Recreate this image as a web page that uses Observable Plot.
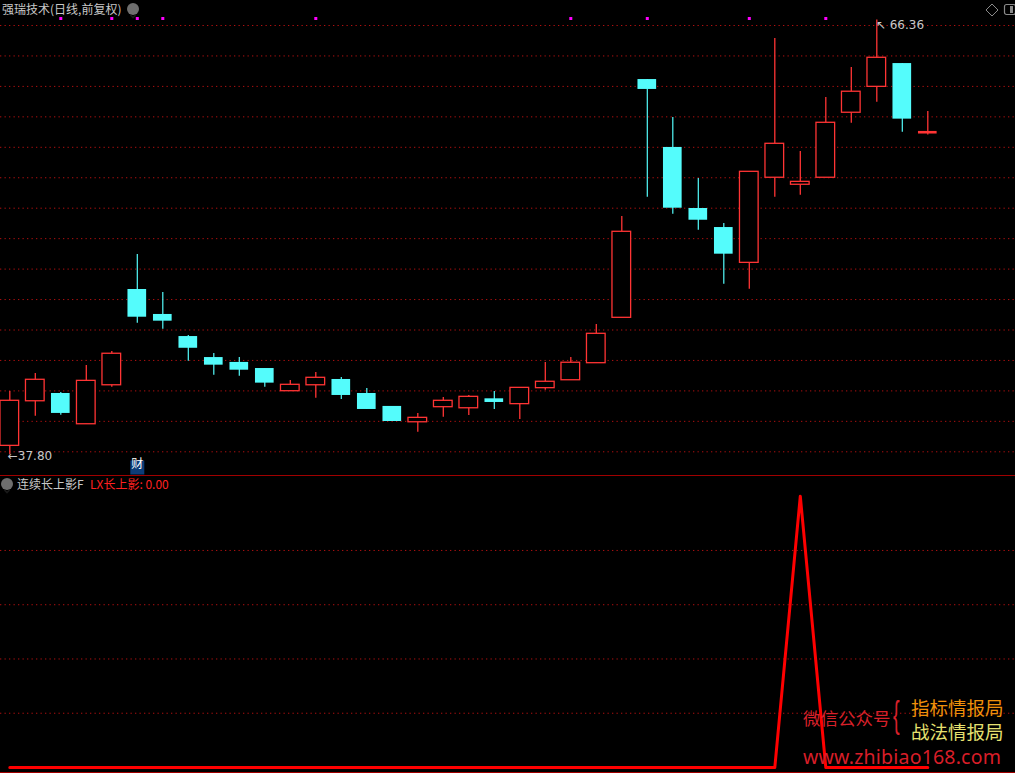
<!DOCTYPE html>
<html><head><meta charset="utf-8">
<script src="https://cdn.jsdelivr.net/npm/d3@7"></script>
<script src="https://cdn.jsdelivr.net/npm/@observablehq/plot@0.6"></script>
<style>
html,body{margin:0;padding:0;background:#000;}
#wrap{position:relative;width:1015px;height:773px;background:#000;overflow:hidden;font-family:"Noto Sans CJK SC","Noto Sans",sans-serif;}
#topPanel{position:absolute;left:0;top:0;}
#bottomPanel{position:absolute;left:0;top:476px;}
.lbl{position:absolute;white-space:nowrap;line-height:1;}
.hline{position:absolute;left:0;width:1015px;height:1px;background:#a00000;}
.ico{position:absolute;width:12px;height:12px;border-radius:50%;background:#6e6e6e;}
</style></head><body>
<div id="wrap">
  <div id="topPanel"></div>
  <div class="hline" style="top:475px"></div>
  <div id="bottomPanel"></div>
  <div class="hline" style="top:772px"></div>

  <div class="lbl" style="left:2px;top:3px;font-size:12px;color:#c8c8c8;">强瑞技术(日线,前复权)</div>
  <div class="ico" style="left:127px;top:3px;"><svg width="12" height="12"><path d="M3.5 5 L6 7.5 L8.5 5" stroke="#1a1a1a" stroke-width="1.6" fill="none"/></svg></div>
  <svg class="lbl" style="left:985px;top:3px;" width="14" height="14"><path d="M7 1 L13 7 L7 13 L1 7 Z" fill="none" stroke="#8a8a8a" stroke-width="1"/></svg>
  <svg class="lbl" style="left:1003px;top:3px;" width="14" height="14"><rect x="1.5" y="1.5" width="11" height="10" rx="2" fill="none" stroke="#8a8a8a" stroke-width="1.2"/><rect x="7" y="3" width="3" height="7" fill="#8a8a8a"/></svg>

  <div class="ico" style="left:1px;top:478px;"><svg width="12" height="12"><path d="M3.5 5 L6 7.5 L8.5 5" stroke="#1a1a1a" stroke-width="1.6" fill="none"/></svg></div>
  <div class="lbl" style="left:17px;top:478px;font-size:12px;color:#c8c8c8;">连续长上影F</div>
  <div class="lbl" style="left:90px;top:478px;font-size:12px;color:#ff2020;">LX长上影: 0.00</div>

  <div class="lbl" style="left:803px;top:709px;font-size:17.5px;color:#d8202a;">微信公众号</div>
  <div class="lbl" style="left:893px;top:697px;font-size:36px;color:#d8202a;font-family:'Liberation Sans';transform:scaleX(0.55);transform-origin:left top;">{</div>
  <div class="lbl" style="left:911px;top:698px;font-size:18.5px;color:#f0900a;">指标情报局</div>
  <div class="lbl" style="left:911px;top:722px;font-size:18.5px;color:#e6e070;">战法情报局</div>
  <div class="lbl" style="left:803px;top:748px;font-size:19.5px;line-height:18px;color:#d81e28;font-family:'Noto Sans',sans-serif;letter-spacing:0.2px;">www.zhibiao168.com</div>
</div>
<script>
// Daily OHLC of 强瑞技术 (index 0..36)
const open  = [38.39, 41.32, 41.83, 39.81, 42.37, 48.66, 47.02, 45.57, 44.19, 43.87, 43.47, 41.98, 42.37, 42.75, 41.83, 40.98, 39.94, 40.93, 40.86, 41.48, 41.13, 42.18, 42.70, 43.82, 46.80, 62.45, 57.99, 53.98, 52.73, 50.41, 56.00, 55.54, 56.00, 60.27, 61.97, 63.50, 58.99];
const high  = [41.96, 43.14, 41.90, 43.67, 44.59, 50.96, 48.46, 45.64, 44.46, 44.19, 43.47, 42.68, 43.21, 42.88, 42.16, 40.98, 40.52, 41.57, 41.70, 41.96, 42.20, 43.87, 44.19, 46.36, 53.45, 62.45, 59.96, 55.95, 52.99, 56.39, 65.15, 57.72, 61.27, 63.24, 66.36, 63.50, 60.35];
const low   = [37.80, 40.34, 40.40, 39.81, 42.24, 46.45, 46.05, 43.95, 43.03, 42.97, 42.24, 41.98, 41.52, 41.44, 40.78, 39.99, 39.29, 40.27, 40.38, 40.78, 40.12, 42.05, 42.70, 43.82, 46.80, 54.72, 53.61, 52.55, 49.01, 48.68, 54.72, 54.85, 56.00, 59.58, 60.96, 58.99, 58.80];
const close = [41.35, 42.73, 40.52, 42.66, 44.44, 46.84, 46.58, 44.80, 43.69, 43.36, 42.51, 42.40, 42.86, 41.70, 40.78, 39.99, 40.23, 41.35, 41.61, 41.24, 42.20, 42.60, 43.85, 45.75, 52.45, 61.80, 54.00, 53.21, 50.98, 56.39, 58.23, 55.73, 59.61, 61.65, 63.88, 59.85, 58.99];
// indicator LX长上影
const lx = [0,0,0,0,0,0,0,0,0,0,0,0,0,0,0,0,0,0,0,0,0,0,0,0,0,0,0,0,0,0,0,1,0,0,0,0,0];
// magenta signal markers (candle indices) and 财 marker
const signalIdx = [2, 4, 5, 6, 12, 22, 25, 29, 32];
const caiIdx = [5];
// grid values
const priceGrid = [38,40,42,44,46,48,50,52,54,56,58,60,62,64,66];
const lxGrid = [0.2, 0.4, 0.6, 0.8];
const lowLabel = {i: 0, v: 37.80, t: "←37.80"};
const highLabel = {i: 34, v: 66.36, t: "↖ 66.36"};

const RED = "#ff3434", CYAN = "#54fcfc";
const candles = open.map((o, i) => ({i, open: o, high: high[i], low: low[i], close: close[i], up: close[i] >= o}));
const hw = 0.366;

const xScale = {type: "linear", domain: [0, 36], range: [9.3, 927.3]};

const topChart = Plot.plot({
  width: 1015, height: 475,
  marginTop: 0, marginRight: 0, marginBottom: 0, marginLeft: 0,
  x: {...xScale, axis: null},
  y: {domain: [38, 66], range: [451.3, 25], axis: null},
  style: {background: "transparent", overflow: "visible"},
  marks: [
    Plot.ruleY(priceGrid, {y: d => d, stroke: "#b01010", strokeWidth: 1, strokeDasharray: "1.3,3.2"}),
    Plot.ruleX(candles.filter(d => d.up), {x: "i", y1: "low", y2: "high", stroke: RED, strokeWidth: 1.3}),
    Plot.ruleX(candles.filter(d => !d.up), {x: "i", y1: "low", y2: "high", stroke: CYAN, strokeWidth: 1.2}),
    Plot.rect(candles.filter(d => d.up && d.open !== d.close), {x1: d => d.i - hw, x2: d => d.i + hw, y1: "open", y2: "close", fill: "#000", stroke: RED, strokeWidth: 1.3}),
    Plot.rect(candles.filter(d => !d.up), {x1: d => d.i - hw, x2: d => d.i + hw, y1: "open", y2: "close", fill: CYAN}),
    Plot.ruleY(candles.filter(d => d.open === d.close), {y: "open", x1: d => d.i - hw, x2: d => d.i + hw, stroke: RED, strokeWidth: 2.6}),
    Plot.dot(signalIdx, {x: d => d, frameAnchor: "top", dy: 18, symbol: "square", fill: "#ff00ff", r: 1.7}),
    Plot.dot(caiIdx, {x: d => d, frameAnchor: "bottom", dy: -8, symbol: "square", fill: "#0c3c78", r: 7.9}),
    Plot.text(caiIdx, {x: d => d, frameAnchor: "bottom", dy: -8, text: () => "财", fill: "#ffffff", fontSize: 12, fontFamily: "Noto Sans CJK SC"}),
    Plot.text([lowLabel], {x: "i", y: "v", text: "t", textAnchor: "start", dx: -2, dy: 1, fill: "#c8c8c8", fontSize: 12, fontFamily: "DejaVu Sans"}),
    Plot.text([highLabel], {x: "i", y: "v", text: "t", textAnchor: "start", dx: -1, dy: 5, fill: "#c8c8c8", fontSize: 12, fontFamily: "DejaVu Sans"})
  ]
});
document.getElementById("topPanel").appendChild(topChart);

const bottomChart = Plot.plot({
  width: 1015, height: 296,
  marginTop: 0, marginRight: 0, marginBottom: 0, marginLeft: 0,
  x: {...xScale, axis: null},
  y: {domain: [0, 1], range: [291, 19.7], axis: null},
  style: {background: "transparent", overflow: "visible"},
  marks: [
    Plot.ruleY(lxGrid, {y: d => d, stroke: "#b01010", strokeWidth: 1, strokeDasharray: "1.3,3.2"}),
    Plot.line(lx, {x: (d, i) => i, y: d => d, stroke: "#ff0000", strokeWidth: 3})
  ]
});
document.getElementById("bottomPanel").appendChild(bottomChart);
</script>
</body></html>
